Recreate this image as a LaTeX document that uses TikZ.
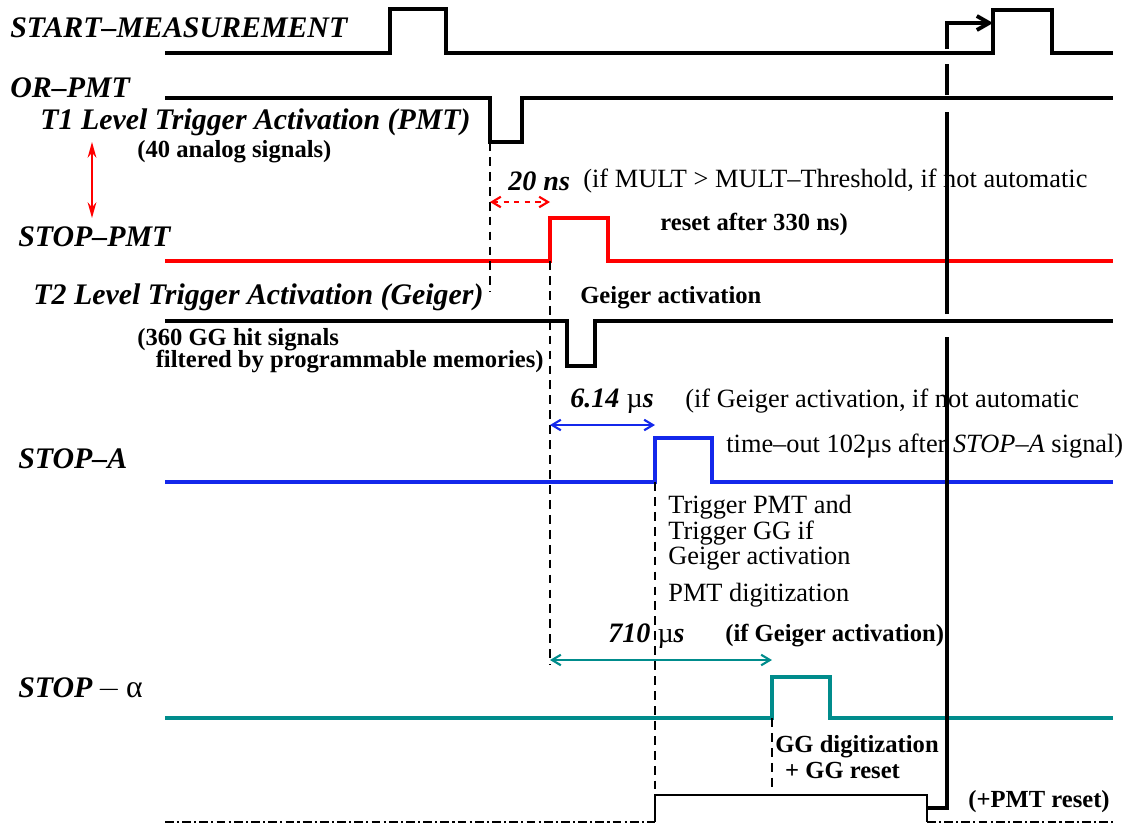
\documentclass[tikz,border=0pt]{standalone}
\usepackage{fontspec}
\setmainfont{Liberation Serif}
\usepackage{tikz}
\usetikzlibrary{arrows.meta,positioning}
\definecolor{sigblue}{RGB}{20,40,235}
\definecolor{sigteal}{RGB}{0,140,140}
\newcommand\tightlines{\setlength{\lineskiplimit}{-20pt}}
\begin{document}
\begin{tikzpicture}[
    x=0.02cm, y=-0.02cm,
    lbl/.style={
      anchor=west,
      inner sep=0pt,
      font=\fontsize{17}{19}\selectfont\bfseries\itshape
    },
    tlbl/.style={
      anchor=west,
      inner sep=0pt,
      font=\fontsize{16}{18}\selectfont\bfseries\itshape
    },
    note/.style={
      anchor=west,
      inner sep=0pt,
      align=left,
      font=\fontsize{14}{12.6}\selectfont\bfseries\tightlines
    },
    plain/.style={
      anchor=west,
      inner sep=0pt,
      align=left,
      font=\fontsize{15}{14.6}\selectfont\tightlines
    },
    sig/.style={
      line width=1.8pt,
      line join=miter
    },
    vmark/.style={
      line width=1pt,
      dash pattern=on 5pt off 3.5pt
    },
    span/.style={
      {Straight Barb[length=5pt,width=6pt]}-{Straight Barb[length=5pt,width=6pt]},
      line width=1.2pt
    },
    dashdot/.style={
      line width=1.2pt,
      dash pattern=on 5pt off 1.8pt on 1.2pt off 1.8pt
    }
  ]
    \useasboundingbox (0,0) rectangle (1130,825);

    \node[lbl] (startlbl) at (10,28) {START--MEASUREMENT};
    \node[lbl] (orlbl) at (10,88) {OR--PMT};
    \node[lbl] (tonelbl) at (40,122) {T1 Level Trigger Activation (PMT)};
    \node[note] (analog) at (137,152) {(40 analog signals)};
    \node[lbl] (stoppmt) at (18,237) {STOP--PMT};
    \node[lbl] (ttwolbl) at (33,297) {T2 Level Trigger Activation (Geiger)};
    \node[note] (gghit) at (137,351) {(360 GG hit signals\\
      \hspace*{0.75em}filtered by programmable memories)};
    \node[lbl] (stopa) at (18,459) {STOP--A};
    \node[lbl] (stopal) at (18,689) {STOP{\normalfont\,$-$\,\fontsize{18}{19}\selectfont α}};

    \node[tlbl] (twentyns) at (508,181) {20 ns};
    \node[plain] (multtxt) at (583,181) {(if MULT > MULT--Threshold, if not automatic};
    \node[note] (resettxt) at (660,224) {reset after 330 ns)};
    \node[note] (geigtxt) at (580,298) {Geiger activation};
    \node[tlbl] (sixus) at (570,401) {6.14 {\normalfont µ}s};
    \node[plain] (geigif) at (685,401) {(if Geiger activation, if not automatic};
    \node[plain] (timeout) at (726,446) {time--out 102µs after \textit{STOP--A} signal)};
    \node[plain] (trigtxt) at (668,533) {Trigger PMT and\\Trigger GG if\\Geiger activation};
    \node[plain] (pmtdig) at (668,595) {PMT digitization};
    \node[tlbl] (sevenus) at (608,636) {710 {\normalfont µ}s};
    \node[note] (geigonly) at (725,636) {(if Geiger activation)};
    \node[note] (ggdig) at (775,757) {GG digitization\\[2pt]\hspace*{0.4em}+ GG reset};
    \node[note] (pmtres) at (968,802) {(+PMT reset)};

    \coordinate (tone) at (490,142);
    \coordinate (pmtup) at (550,261);
    \coordinate (aup) at (655,482);
    \coordinate (alup) at (772,718);
    \coordinate (redtop) at (92,142);
    \coordinate (redbot) at (92,218);

    \draw[sig] (165,53) -- (390,53) -- (390,9) -- (446,9) -- (446,53)
      -- (993,53) -- (993,10) -- (1052,10) -- (1052,53) -- (1113,53);
    \draw[sig] (165,98) -- (490,98) -- (490,142) -- (522,142) -- (522,98) -- (1113,98);
    \draw[sig, red] (165,261) -- (550,261) -- (550,218) -- (608,218) -- (608,261) -- (1113,261);
    \draw[sig] (165,321) -- (567,321) -- (567,366) -- (595,366) -- (595,321) -- (1113,321);
    \draw[sig, sigblue] (165,482) -- (655,482) -- (655,438) -- (712,438) -- (712,482) -- (1113,482);
    \draw[sig, sigteal] (165,718) -- (772,718) -- (772,677) -- (830,677) -- (830,718) -- (1113,718);

    \draw[dashdot] (165,822) -- (655,822);
    \draw[dashdot] (927,822) -- (1113,822);
    \draw[line width=1.2pt] (655,822) -- (655,795) -- (927,795) -- (927,822);

    \draw[sig, line width=2.2pt] (927,808) -- (947,808) -- (947,337);
    \draw[sig, line width=2.2pt] (947,314) -- (947,112);
    \draw[sig, line width=2.2pt] (947,95) -- (947,64);
    \draw[sig, line width=2.2pt, -{Straight Barb[length=7pt,width=8pt]}] (947,49) -- (947,23) -- (993,23);

    \draw[vmark] (tone) -- (490,292);
    \draw[vmark] (pmtup) -- (550,665);
    \draw[vmark] (aup) -- (655,795);
    \draw[vmark] (alup) -- (772,790);

    \draw[span, red, dashed] (tone |- 0,202) -- (pmtup |- 0,202);
    \draw[span, sigblue] (pmtup |- 0,425) -- (aup |- 0,425);
    \draw[span, sigteal] (pmtup |- 0,660) -- (alup |- 0,660);
    \draw[red, line width=1pt, {Stealth[length=9pt,width=5pt]}-{Stealth[length=9pt,width=5pt]}] (redtop) -- (redbot);
  \end{tikzpicture}
\end{document}
